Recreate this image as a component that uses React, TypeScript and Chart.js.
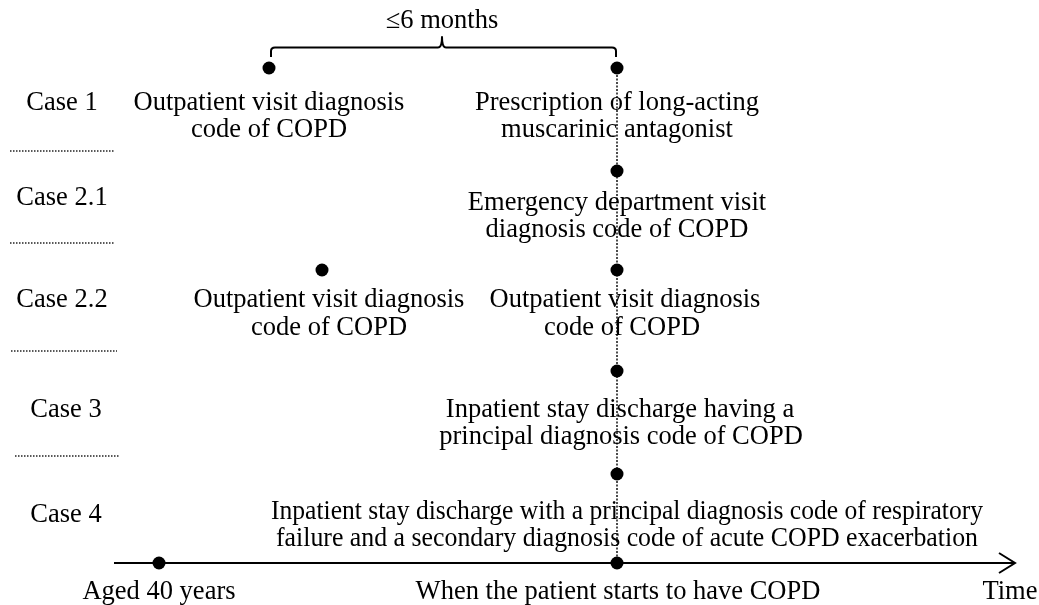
import React, { useEffect, useRef } from "react";
import { Chart, registerables } from "chart.js";

Chart.register(...registerables);

// ---- Data (diagram units = page pixels of the 1039x605 layout) ----
const caseNames = ["Case 1", "Case 2.1", "Case 2.2", "Case 3", "Case 4"];
const caseNameX = [62, 62, 62, 66, 66];
const caseNameY = [101, 196, 298, 408, 513];

const separatorY = [151, 243, 351, 456];
const separatorX0 = [10, 10, 11, 15];
const separatorX1 = [115, 115, 117, 120];

const eventX = [269, 617, 617, 322, 617, 617, 617];
const eventY = [68, 68, 171, 270, 270, 371, 474];

const descriptionLines = [
  "Outpatient visit diagnosis",
  "code of COPD",
  "Prescription of long-acting",
  "muscarinic antagonist",
  "Emergency department visit",
  "diagnosis code of COPD",
  "Outpatient visit diagnosis",
  "code of COPD",
  "Outpatient visit diagnosis",
  "code of COPD",
  "Inpatient stay discharge having a",
  "principal diagnosis code of COPD",
  "Inpatient stay discharge with a principal diagnosis code of respiratory",
  "failure and a secondary diagnosis code of acute COPD exacerbation",
];
const descriptionX = [269, 269, 617, 617, 617, 617, 329, 329, 625, 622, 620, 621, 627, 627];
const descriptionY = [101, 128, 101, 128, 201, 228, 298, 326, 298, 326, 408, 435, 510, 537];
const descriptionMaxW = [0, 0, 0, 0, 0, 0, 0, 0, 0, 0, 0, 0, 712, 702];

const timelineY = 563;
const timelineStartX = 114;
const timelineEndX = 1015;
const timelineMarkX = [159, 617];
const timelineLabels = ["Aged 40 years", "When the patient starts to have COPD", "Time"];
const timelineLabelX = [159, 618, 1010];
const timelineLabelY = [590, 590, 590];

const bracketLeftX = 269;
const bracketRightX = 617;
const bracketMidX = 442;
const bracketLabel = "≤6 months";
const bracketLabelY = 19;

const FONT = '26.5px "Liberation Serif", "Times New Roman", serif';
const TEXT_DY = 2;

const overlayPlugin = {
  id: "diagramOverlay",
  afterDatasetsDraw(chart: any) {
    const ctx = chart.ctx as CanvasRenderingContext2D;
    const xs = chart.scales.x;
    const ys = chart.scales.y;
    const px = (v: number) => xs.getPixelForValue(v);
    const py = (v: number) => ys.getPixelForValue(v);

    ctx.save();
    // bracket
    ctx.strokeStyle = "#000";
    ctx.lineWidth = 2;
    ctx.lineJoin = "round";
    const yb = py(47.5);
    const yBot = py(57);
    const yTip = py(37);
    ctx.beginPath();
    ctx.moveTo(px(bracketLeftX + 2), yBot);
    ctx.lineTo(px(bracketLeftX + 2), py(51));
    ctx.quadraticCurveTo(px(bracketLeftX + 2), yb, px(bracketLeftX + 6), yb);
    ctx.lineTo(px(bracketMidX - 4), yb);
    ctx.quadraticCurveTo(px(bracketMidX), yb, px(bracketMidX), yTip);
    ctx.quadraticCurveTo(px(bracketMidX), yb, px(bracketMidX + 4), yb);
    ctx.lineTo(px(bracketRightX - 5), yb);
    ctx.quadraticCurveTo(px(bracketRightX - 1), yb, px(bracketRightX - 1), py(51));
    ctx.lineTo(px(bracketRightX - 1), yBot);
    ctx.stroke();

    // texts
    ctx.fillStyle = "#000";
    ctx.font = FONT;
    ctx.textAlign = "center";
    ctx.textBaseline = "middle";
    ctx.fillText(bracketLabel, px(bracketMidX), py(bracketLabelY) + TEXT_DY);
    caseNames.forEach((t, i) => ctx.fillText(t, px(caseNameX[i]), py(caseNameY[i]) + TEXT_DY));
    descriptionLines.forEach((t, i) => {
      if (descriptionMaxW[i] > 0) {
        ctx.fillText(t, px(descriptionX[i]), py(descriptionY[i]) + TEXT_DY, descriptionMaxW[i]);
      } else {
        ctx.fillText(t, px(descriptionX[i]), py(descriptionY[i]) + TEXT_DY);
      }
    });
    timelineLabels.forEach((t, i) =>
      ctx.fillText(t, px(timelineLabelX[i]), py(timelineLabelY[i]) + TEXT_DY)
    );
    ctx.restore();
  },
};

export default function App() {
  const ref = useRef<HTMLCanvasElement | null>(null);

  useEffect(() => {
    if (!ref.current) return;

    const separatorSets = separatorY.map((y, i) => ({
      data: [
        { x: separatorX0[i], y },
        { x: separatorX1[i], y },
      ],
      showLine: true,
      borderColor: "#222",
      borderWidth: 1.6,
      borderDash: [1.5, 1.5],
      pointRadius: 0,
      order: 5,
    }));

    const chart = new Chart(ref.current, {
      type: "scatter",
      data: {
        datasets: [
          // vertical dotted line
          {
            data: [
              { x: 617, y: eventY[1] },
              { x: 617, y: timelineY },
            ],
            showLine: true,
            borderColor: "#111",
            borderWidth: 1.5,
            borderDash: [2, 1.5],
            pointRadius: 0,
            order: 4,
          },
          ...separatorSets,
          // timeline axis
          {
            data: [
              { x: timelineStartX, y: timelineY },
              { x: timelineEndX, y: timelineY },
            ],
            showLine: true,
            borderColor: "#000",
            borderWidth: 2,
            pointRadius: 0,
            order: 3,
          },
          // arrow head
          {
            data: [
              { x: timelineEndX - 16, y: timelineY - 10 },
              { x: timelineEndX, y: timelineY },
              { x: timelineEndX - 16, y: timelineY + 10 },
            ],
            showLine: true,
            borderColor: "#000",
            borderWidth: 2,
            pointRadius: 0,
            order: 3,
          },
          // events
          {
            data: eventX.map((x, i) => ({ x, y: eventY[i] })),
            showLine: false,
            backgroundColor: "#000",
            borderColor: "#000",
            pointRadius: 6.5,
            borderWidth: 0,
            order: 1,
          },
          // timeline marks
          {
            data: timelineMarkX.map((x) => ({ x, y: timelineY })),
            showLine: false,
            backgroundColor: "#000",
            borderColor: "#000",
            pointRadius: 6.5,
            borderWidth: 0,
            order: 1,
          },
        ] as any,
      },
      options: {
        animation: false,
        responsive: true,
        maintainAspectRatio: false,
        layout: { padding: 0, autoPadding: false },
        events: [],
        plugins: {
          legend: { display: false },
          tooltip: { enabled: false },
          title: { display: false },
        },
        scales: {
          x: { type: "linear", min: 0, max: 1039, display: false },
          y: { type: "linear", min: 0, max: 605, reverse: true, display: false },
        },
      },
      plugins: [overlayPlugin],
    });

    return () => chart.destroy();
  }, []);

  return (
    <div
      style={{
        position: "fixed",
        left: 0,
        top: 0,
        width: 1039,
        height: 605,
        background: "#fff",
      }}
    >
      <canvas ref={ref} />
    </div>
  );
}
